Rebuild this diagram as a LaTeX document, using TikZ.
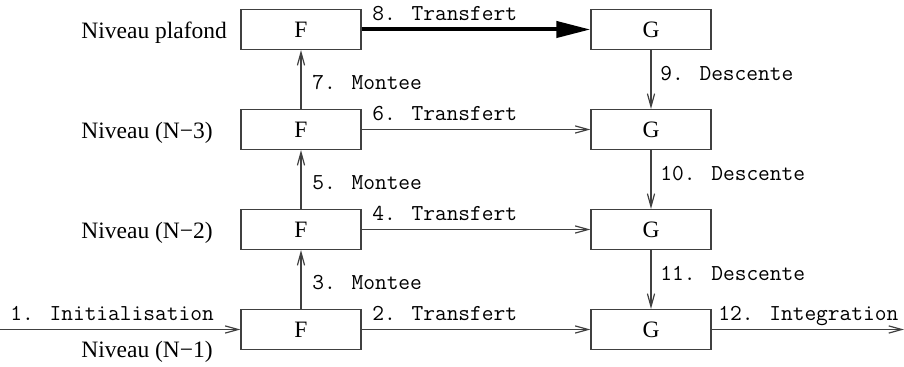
\documentclass[tikz,border=0pt]{standalone}
\usepackage{fontspec}
\setmainfont{Liberation Serif}
\usetikzlibrary{arrows.meta}
\tikzset{
  box/.style={draw=black!75, line width=0.6pt, minimum width=60pt, minimum height=20pt, inner sep=0pt,
              font=\fontsize{11.75}{14}\selectfont},
  lvl/.style={anchor=base west, inner sep=0pt, font=\fontsize{11.75}{14}\selectfont},
  lbl/.style={anchor=base west, inner sep=0pt, font=\fontsize{11.4}{13}\selectfont\ttfamily},
  conn/.style={draw=black!75, line width=0.6pt, -{Straight Barb[length=6.5pt,width=3.6pt]}},
  bigconn/.style={draw=black, line width=2pt, -{Triangle[length=17pt,width=8pt]}}
}
\begin{document}
\begin{tikzpicture}[x=0.5pt,y=-0.5pt]
\useasboundingbox (0,0) rectangle (904,367);
% boxes
\node[box] (F1) at (301,29.5) {F};
\node[box] (F2) at (301,129.5) {F};
\node[box] (F3) at (301,229.5) {F};
\node[box] (F4) at (301,329.5) {F};
\node[box] (G1) at (651,29.5) {G};
\node[box] (G2) at (651,129.5) {G};
\node[box] (G3) at (651,229.5) {G};
\node[box] (G4) at (651,329.5) {G};
% levels
\node[lvl] (L1) at (81,39) {Niveau plafond};
\node[lvl] (L2) at (81,139) {Niveau (N−3)};
\node[lvl] (L3) at (81,239) {Niveau (N−2)};
\node[lvl] (L4) at (81,358) {Niveau (N−1)};
% free ends
\coordinate (in) at (0,329.5);
\coordinate (out) at (904,329.5);
% connectors
\draw[conn] (in) -- (F4.west);
\draw[conn] (F4.east) -- (G4.west);
\draw[conn] (F4.north) -- (F3.south);
\draw[conn] (F3.east) -- (G3.west);
\draw[conn] (F3.north) -- (F2.south);
\draw[conn] (F2.east) -- (G2.west);
\draw[conn] (F2.north) -- (F1.south);
\draw[bigconn] (F1.east) -- (G1.west);
\draw[conn] (G1.south) -- (G2.north);
\draw[conn] (G2.south) -- (G3.north);
\draw[conn] (G3.south) -- (G4.north);
\draw[conn] (G4.east) -- (out);
% labels
\node[lbl] (t1) at (10,320.5) {1. Initialisation};
\node[lbl] (t2) at (372,320.5) {2. Transfert};
\node[lbl] (t3) at (312,290) {3. Montee};
\node[lbl] (t4) at (372,220.5) {4. Transfert};
\node[lbl] (t5) at (312,190) {5. Montee};
\node[lbl] (t6) at (372,120.5) {6. Transfert};
\node[lbl] (t7) at (312,90) {7. Montee};
\node[lbl] (t8) at (372,21) {8. Transfert};
\node[lbl] (t9) at (660,81) {9. Descente};
\node[lbl] (t10) at (660,181) {10. Descente};
\node[lbl] (t11) at (660,281) {11. Descente};
\node[lbl] (t12) at (718,320.5) {12. Integration};
\end{tikzpicture}
\end{document}
